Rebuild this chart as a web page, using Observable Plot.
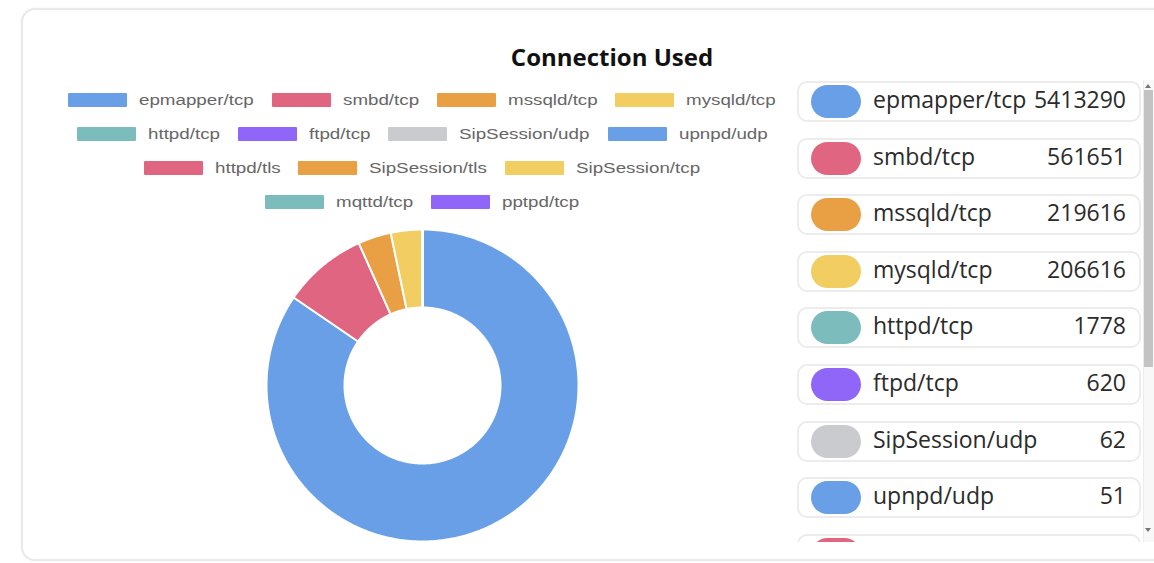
<!DOCTYPE html>
<html>
<head>
<meta charset="utf-8">
<script src="https://cdn.jsdelivr.net/npm/d3@7"></script>
<script src="https://cdn.jsdelivr.net/npm/@observablehq/plot@0.6"></script>
<style>
  html, body { margin: 0; padding: 0; background: #fff; width: 1154px; height: 563px; overflow: hidden; }
  #card { position: absolute; left: 21px; top: 8px; width: 1220px; height: 553px; box-sizing: border-box;
          border: 2px solid #e9e9e9; border-radius: 14px; box-shadow: 0 0 3px rgba(0,0,0,0.04); }
  #title { position: absolute; left: 0; width: 1224px; top: 40px; line-height: 24px; text-align: center;
           font: bold 24px "Open Sans", sans-serif; color: #111; }
  #legend { position: absolute; left: 66px; width: 712px; top: 93px; display: flex; flex-wrap: wrap;
            justify-content: center; column-gap: 18px; row-gap: 20px; }
  .li { display: flex; align-items: center; height: 14px; }
  .sw { width: 59px; height: 14px; border-radius: 1px; margin-right: 12px; }
  .lt { display: inline-block; height: 14px; position: relative; }
  .lt span { position: absolute; left: 0; top: 0; white-space: nowrap; font: 14px "Liberation Sans", Arial, sans-serif;
             line-height: 14px; color: #666; transform-origin: 0 50%; }
  #donut { position: absolute; left: 266px; top: 229px; }
  #list { position: absolute; left: 797px; top: 81px; width: 344px; height: 461px; overflow: hidden;
          display: flex; flex-direction: column; gap: 15.6px; }
  .item { position: relative; flex: 0 0 41px; height: 41px; box-sizing: border-box; border: 2px solid #ececec;
          border-radius: 10px; background: #fff; }
  .pill { position: absolute; left: 12px; top: 2px; width: 50px; height: 33px; border-radius: 17px; }
  .name { position: absolute; left: 74px; top: 0; line-height: 37px; font: 23px "Open Sans", sans-serif; color: #2b2b2b; }
  .val { position: absolute; right: 13px; top: 0; line-height: 37px; font: 23px "Open Sans", sans-serif; color: #2b2b2b; }
  #track { position: absolute; left: 1143px; top: 80px; width: 11px; height: 462px; background: #f8f8f8;
           border-left: 1px solid #ececec; box-sizing: border-box; }
  #thumb { position: absolute; left: 1144px; top: 90px; width: 9px; height: 277px; background: #c3c3c3; }
  .arr { position: absolute; width: 0; height: 0; border-left: 3px solid transparent; border-right: 3px solid transparent; }
</style>
</head>
<body>
<div id="card"></div>
<div id="title">Connection Used</div>
<div id="legend"></div>
<div id="donut"></div>
<div id="list"></div>
<div id="track"></div>
<div id="thumb"></div>
<div class="arr" style="left:1145px;top:84px;border-bottom:4px solid #777;"></div>
<div class="arr" style="left:1145px;top:528px;border-top:4px solid #777;"></div>
<script>
// ---- data ----
const services = ["epmapper/tcp", "smbd/tcp", "mssqld/tcp", "mysqld/tcp", "httpd/tcp", "ftpd/tcp",
  "SipSession/udp", "upnpd/udp", "httpd/tls", "SipSession/tls", "SipSession/tcp", "mqttd/tcp", "pptpd/tcp"];
const connections = [5413290, 561651, 219616, 206616, 1778, 620, 62, 51, 24, 11, 6, 3, 2];
const palette = ["#699fe6", "#e06580", "#e9a044", "#f2cd62", "#7cbcbc", "#8f66f8", "#c9cbcf"];
const title = "Connection Used";

const colorRange = services.map((_, i) => palette[i % palette.length]);
const colorOf = d3.scaleOrdinal(services, colorRange);

// ---- legend ----
const legend = document.getElementById("legend");
const LEGEND_STRETCH = 1.34;
const ctx = document.createElement("canvas").getContext("2d");
ctx.font = '14px "Liberation Sans"';
services.forEach(s => {
  const li = document.createElement("div"); li.className = "li";
  const sw = document.createElement("div"); sw.className = "sw"; sw.style.background = colorOf(s);
  const lt = document.createElement("div"); lt.className = "lt";
  const sp = document.createElement("span"); sp.textContent = s;
  sp.style.transform = `scaleX(${LEGEND_STRETCH})`;
  lt.style.width = (ctx.measureText(s).width * LEGEND_STRETCH) + "px";
  lt.appendChild(sp); li.appendChild(sw); li.appendChild(lt); legend.appendChild(li);
});

// ---- donut slices ----
const arcs = d3.pie().sort(null).value(d => d.value)(services.map((name, i) => ({name, value: connections[i]})));
const INNER = 0.5;
const features = arcs.map(a => {
  const n = Math.max(2, Math.ceil((a.endAngle - a.startAngle) / 0.01));
  const outer = d3.range(n + 1).map(k => {
    const t = a.startAngle + (a.endAngle - a.startAngle) * k / n;
    return [Math.sin(t), Math.cos(t)];
  });
  const inner = outer.map(([x, y]) => [x * INNER, y * INNER]).reverse();
  const ring = outer.concat(inner);
  ring.push(ring[0]);
  return {type: "Feature", properties: {name: a.data.name}, geometry: {type: "Polygon", coordinates: [ring]}};
});

const chart = Plot.plot({
  width: 312,
  height: 312,
  margin: 0,
  projection: {type: "reflect-y", domain: {type: "MultiPoint", coordinates: [[-1, -1], [1, 1]]}},
  color: {type: "ordinal", domain: services, range: colorRange},
  marks: [
    Plot.geo(features, {fill: d => d.properties.name, stroke: "white", strokeWidth: 2})
  ]
});
document.getElementById("donut").appendChild(chart);

// ---- list panel ----
const list = document.getElementById("list");
services.forEach((s, i) => {
  const it = document.createElement("div"); it.className = "item";
  it.innerHTML = `<div class="pill" style="background:${colorOf(s)}"></div><div class="name"></div><div class="val"></div>`;
  it.querySelector(".name").textContent = s;
  it.querySelector(".val").textContent = String(connections[i]);
  list.appendChild(it);
});
</script>
</body>
</html>
